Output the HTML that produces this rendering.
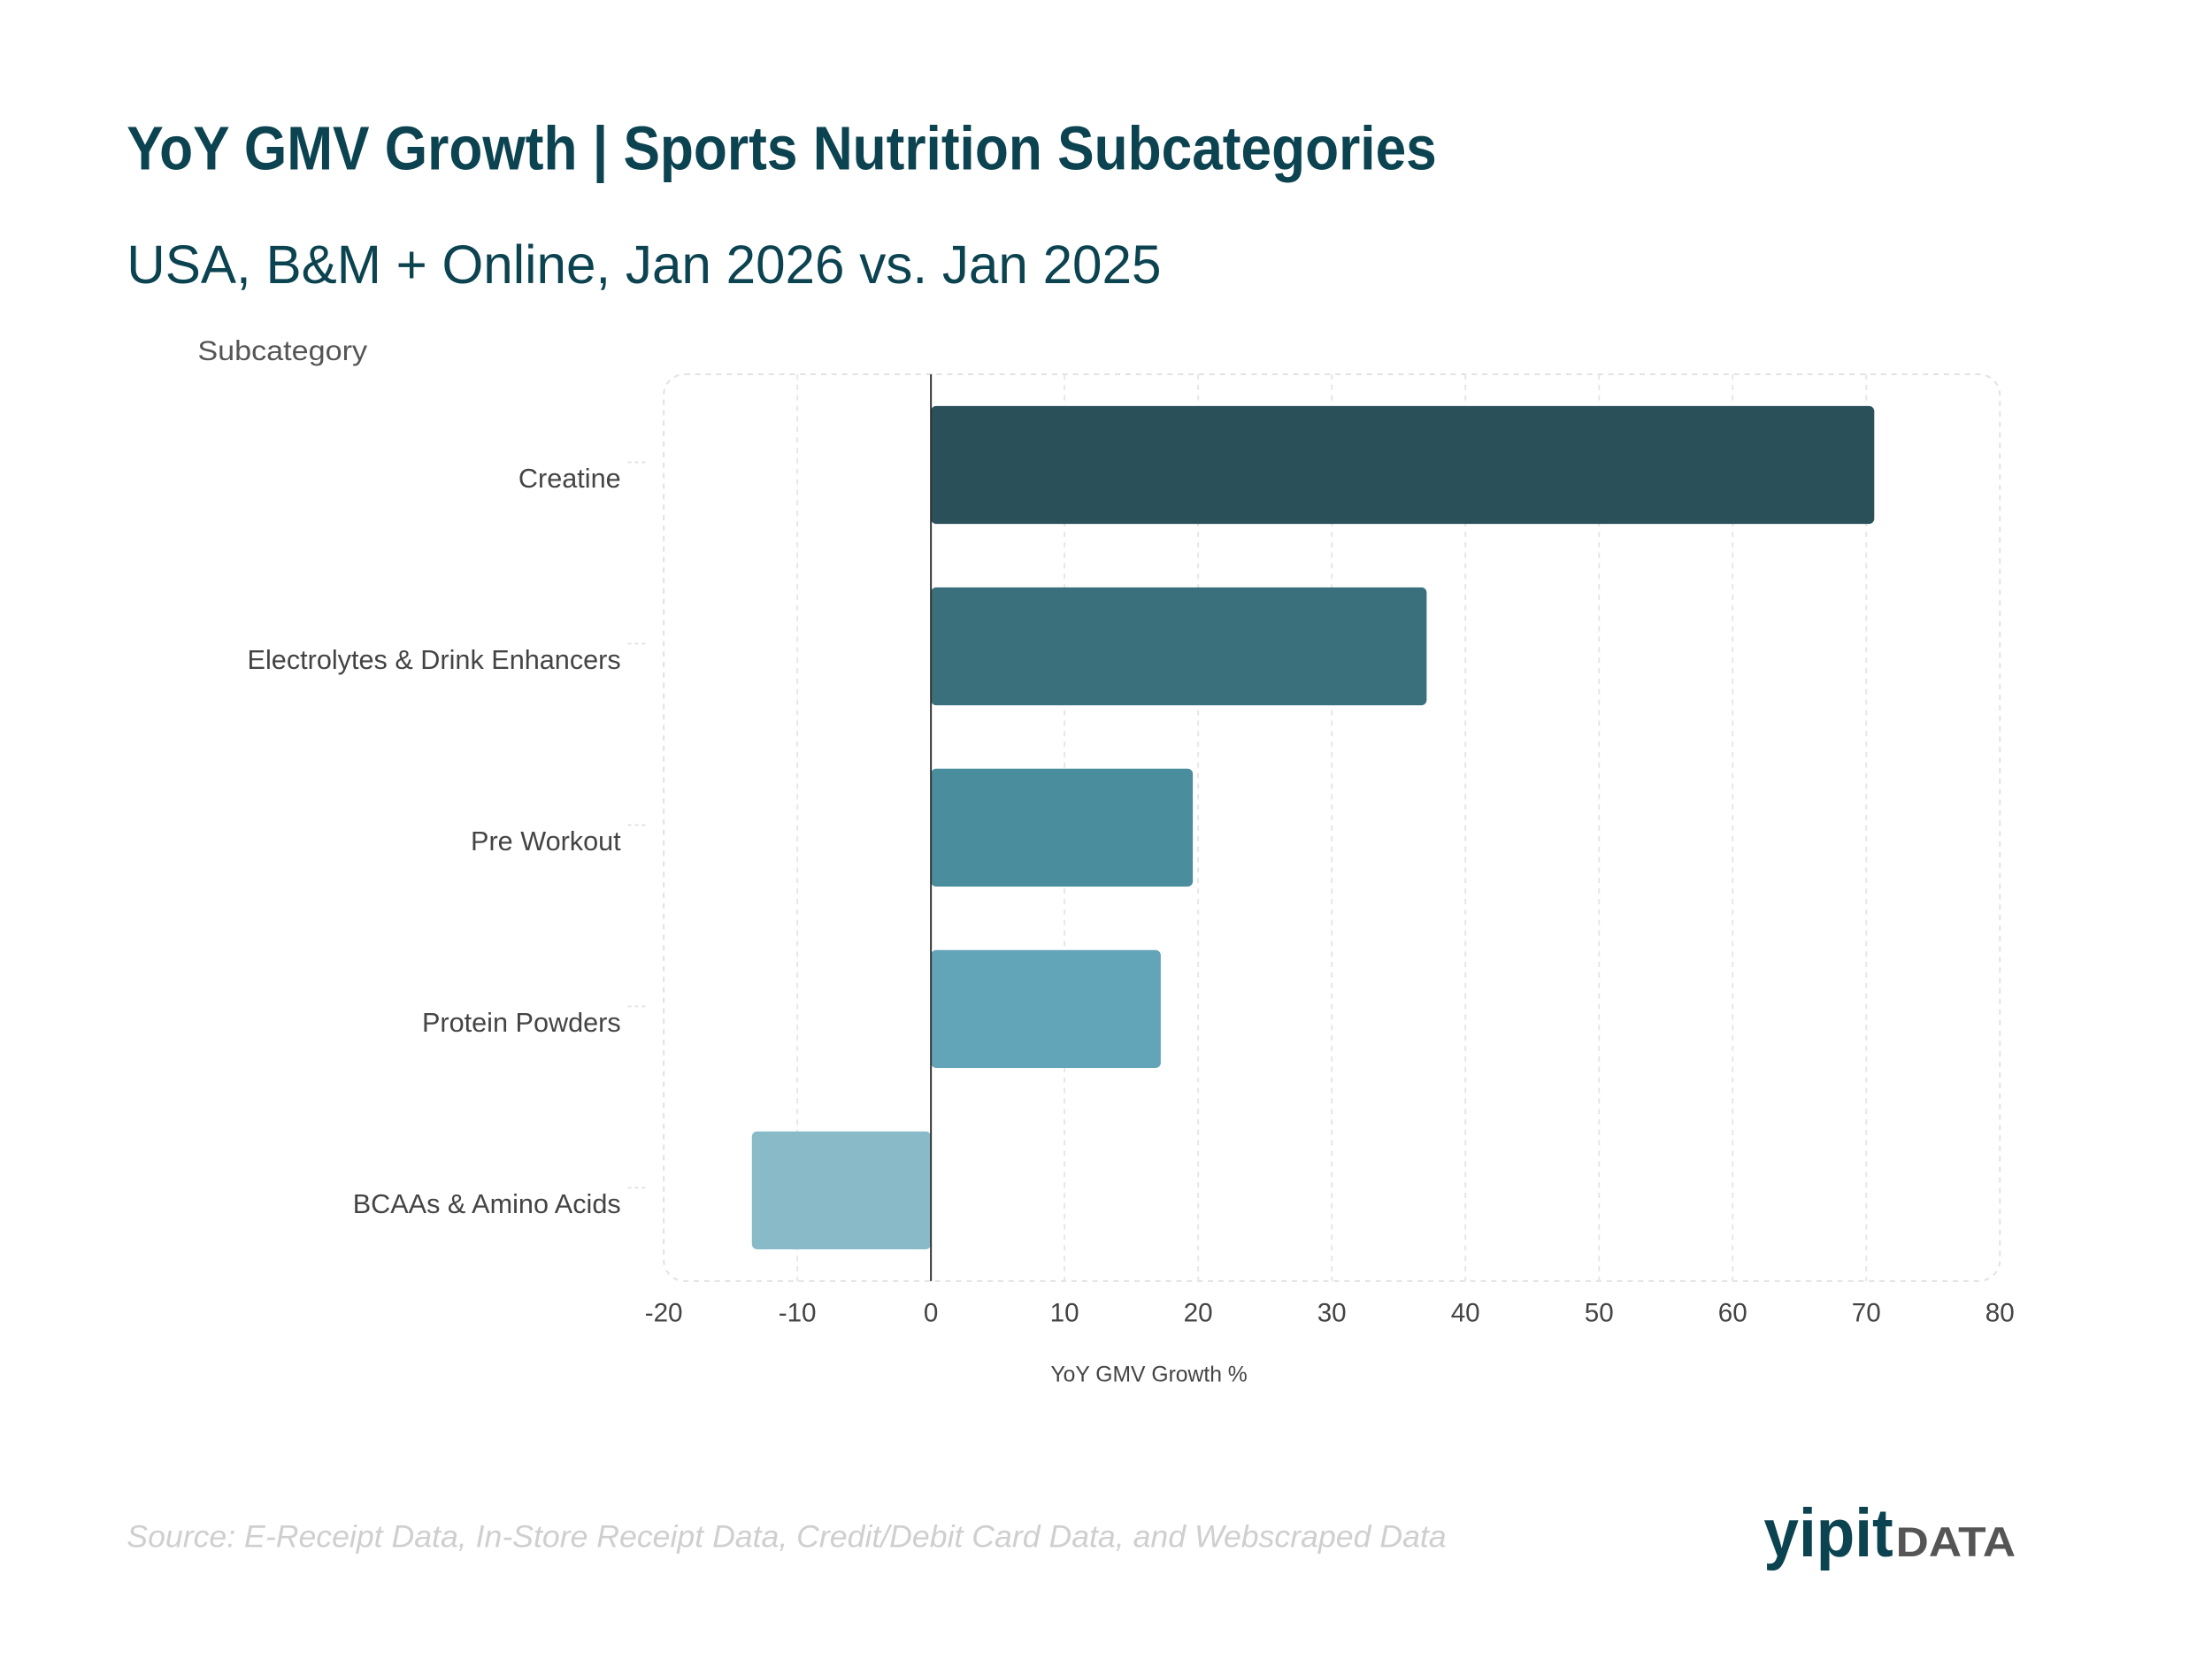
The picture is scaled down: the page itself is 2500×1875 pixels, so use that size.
<!DOCTYPE html>
<html><head><meta charset="utf-8"><style>
html,body{margin:0;padding:0;background:#fff;}
svg{display:block;}
text{font-family:"Liberation Sans",sans-serif;}
</style></head><body>
<svg id="chart" width="2500" height="1875" viewBox="0 0 2500 1875" xmlns="http://www.w3.org/2000/svg">
<rect width="2500" height="1875" fill="#fff"/>
<g transform="scale(0.9883)">
<text x="145" y="194" font-size="70" font-weight="bold" fill="#0c4350" textLength="1498" lengthAdjust="spacingAndGlyphs">YoY GMV Growth | Sports Nutrition Subcategories</text>
<text x="145" y="324" font-size="62" fill="#0c4350" textLength="1183" lengthAdjust="spacingAndGlyphs">USA, B&amp;M + Online, Jan 2026 vs. Jan 2025</text>
<text x="226" y="412" font-size="32" fill="#555" textLength="194" lengthAdjust="spacingAndGlyphs">Subcategory</text>
<rect x="759" y="428" width="1528" height="1037" rx="24" fill="none" stroke="#e2e2e2" stroke-width="2" stroke-dasharray="6,6"/>
<g id="grid"></g>
<g id="bars"></g>
<line id="zeroline" stroke="#333" stroke-width="2"/>
<g id="ylabels"></g>
<g id="xticks"></g>
<text x="1314" y="1580" font-size="25" fill="#444" text-anchor="middle">YoY GMV Growth %</text>
<text x="145" y="1769" font-size="36" font-style="italic" fill="#cfcfcf" textLength="1509" lengthAdjust="spacingAndGlyphs">Source: E-Receipt Data, In-Store Receipt Data, Credit/Debit Card Data, and Webscraped Data</text>
<g>
<text x="2017" y="1780" font-size="78" font-weight="bold" fill="#0c4350" textLength="148" lengthAdjust="spacingAndGlyphs">yipit</text>
<text x="2168" y="1780" font-size="48" font-weight="bold" fill="#555" textLength="137" lengthAdjust="spacingAndGlyphs">DATA</text>
</g>
</g>
</svg>
<script>
const categories = ["Creatine","Electrolytes & Drink Enhancers","Pre Workout","Protein Powders","BCAAs & Amino Acids"];
const values = [70.6, 37.1, 19.6, 17.2, -13.4];
const colors = ["#2a505a","#3a6f7c","#4a8d9c","#63a5b8","#88bbc7"];
const xTicks = [-20,-10,0,10,20,30,40,50,60,70,80];

const NS="http://www.w3.org/2000/svg";
const X0=759, X1=2287, Y0=428, Y1=1465, XMIN=-20, XMAX=80;
function x(v){return X0+(v-XMIN)/(XMAX-XMIN)*(X1-X0);}
const band=(Y1-Y0)/categories.length;
function yc(i){return Y0+band*(i+0.5);}
const barH=band*0.65;
function mk(tag,attrs,parent){const e=document.createElementNS(NS,tag);for(const k in attrs)e.setAttribute(k,attrs[k]);parent.appendChild(e);return e;}

const grid=document.getElementById('grid');
xTicks.forEach(t=>{
  if(t===XMIN||t===XMAX) return;
  const l=mk('line',{x1:x(t),x2:x(t),y1:Y0,y2:Y1,stroke:'#e6e6e6','stroke-width':2,'stroke-dasharray':'6,6'},grid);
  
  
});
const xt=document.getElementById('xticks');
xTicks.forEach(t=>{
  const e=mk('text',{x:x(t),y:1511,'font-size':30,fill:'#444','text-anchor':'middle'},xt);
  e.textContent=String(t);
  
  
});
const bars=document.getElementById('bars');
const yl=document.getElementById('ylabels');
categories.forEach((c,i)=>{
  const v=values[i];
  const a=Math.min(x(0),x(v)), w=Math.abs(x(v)-x(0));
  const r=mk('rect',{x:a,y:yc(i)-barH/2,width:w,height:barH,rx:6,fill:colors[i]},bars);
  
  
  const t=mk('text',{x:710,y:yc(i)+26,'font-size':31,fill:'#444','text-anchor':'end'},yl);
  t.textContent=c;
  
  
  const tk=mk('line',{x1:718,x2:742,y1:yc(i)-3,y2:yc(i)-3,stroke:'#e2e2e2','stroke-width':2,'stroke-dasharray':'4,4'},yl);
  
  
});
const z=document.getElementById('zeroline');
z.setAttribute('x1',x(0));z.setAttribute('x2',x(0));z.setAttribute('y1',Y0);z.setAttribute('y2',Y1);
</script>
</body></html>
